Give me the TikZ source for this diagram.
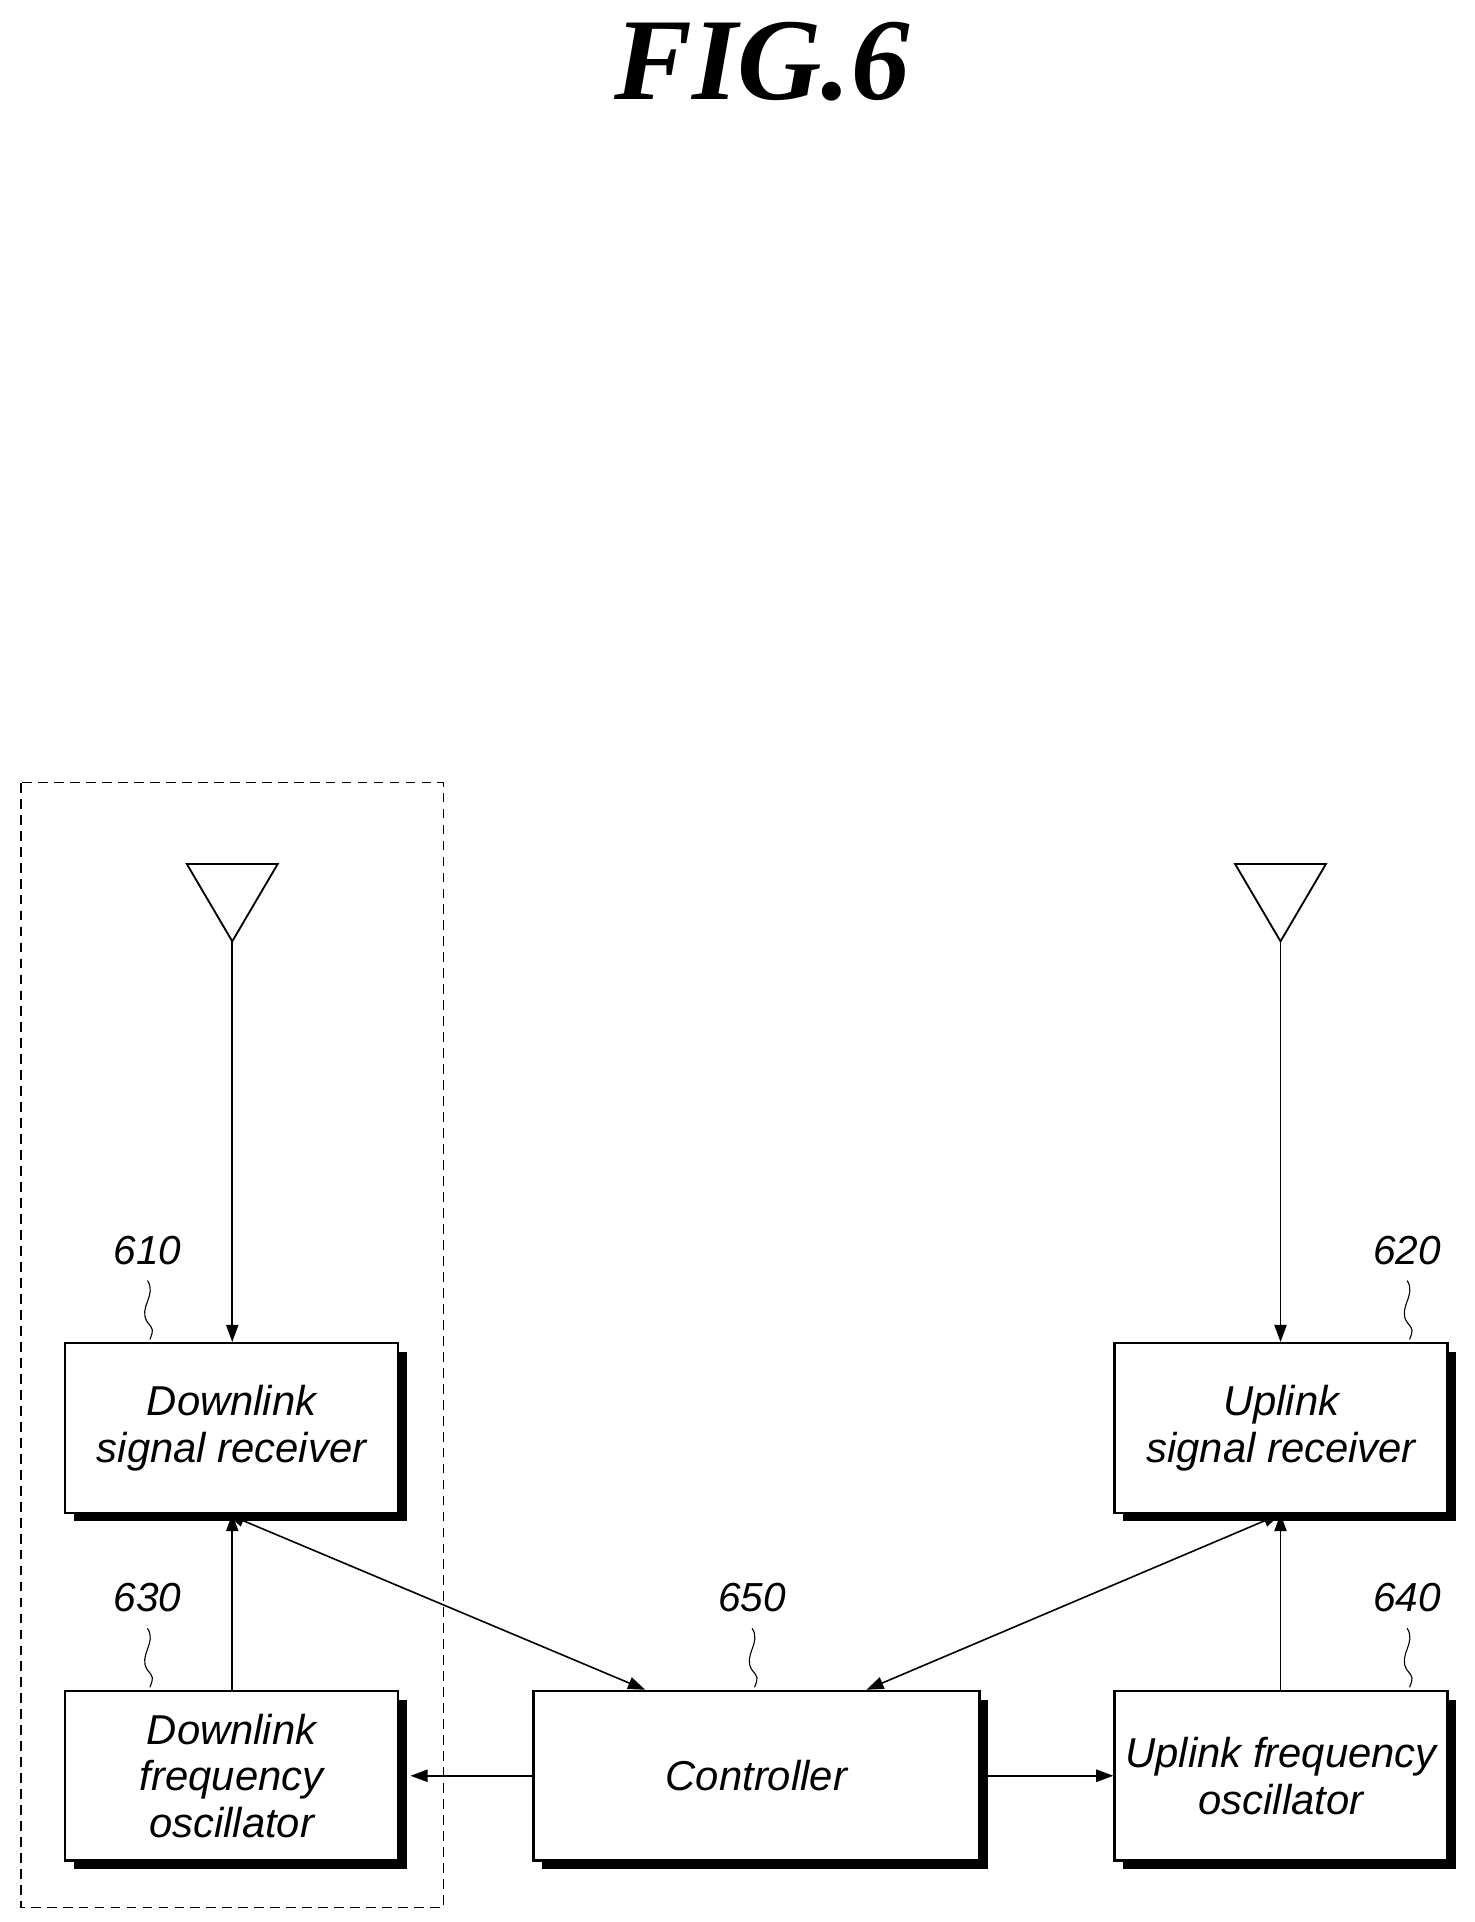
\documentclass[tikz,border=0pt]{standalone}
\usepackage{fontspec}
\setmainfont{Liberation Sans}
\newfontfamily\titlefont{Liberation Serif}
\usetikzlibrary{arrows.meta}
\begin{document}
\begin{tikzpicture}[x=1pt,y=-1pt,
  blk/.style={draw,line width=2pt,fill=white,minimum width=271pt,minimum height=138pt,anchor=north west,align=center,font=\fontsize{34}{38}\selectfont\itshape,inner sep=0pt},
  lbl/.style={font=\fontsize{33}{38}\selectfont\itshape},
  arr/.style={line width=1.3pt,-{Triangle[length=14pt,width=10pt]}},
  darr/.style={line width=1.3pt,{Triangle[length=14pt,width=10pt]}-{Triangle[length=14pt,width=10pt]}},
  sq/.style={line width=0.9pt}]
\useasboundingbox (0,0) rectangle (1200,1564);
\node[font=\titlefont\fontsize{95}{100}\selectfont\bfseries\itshape] (title) at (620,50) {FIG.6};
\draw[line width=1pt,dash pattern=on 8pt off 5pt] (17,637) rectangle (361,1552);
% shadows
\foreach \x/\y/\w in {52/1092/271,906/1092/271,52/1375/271,433/1375/363,906/1375/271}
  \fill (\x+8,\y+8) rectangle ++(\w,138);
\node[blk] (b610) at (52,1092) {Downlink\\signal receiver};
\node[blk] (b620) at (906,1092) {Uplink\\signal receiver};
\node[blk] (b630) at (52,1375) {Downlink\\frequency\\oscillator};
\node[blk,minimum width=363pt] (b650) at (433,1375) {Controller};
\node[blk] (b640) at (906,1375) {Uplink frequency\\oscillator};
% antennas
\draw[line width=1.5pt] (152,703) -- (226,703) -- (189,766) coordinate (a1) -- cycle;
\draw[line width=1.5pt] (1005,703) -- (1079,703) -- (1042,766) coordinate (a2) -- cycle;
\draw[arr] (a1) -- (b610.north -| a1);
\draw[arr] (a2) -- (b620.north -| a2);
\draw[arr] (b630.north -| a1) -- (b610.south -| a1);
\draw[arr] (b640.north -| a2) -- (b620.south -| a2);
\coordinate (p1) at (185,1232); \coordinate (q1) at (525,1375);
\coordinate (p2) at (1042,1232); \coordinate (q2) at (705,1375);
\draw[darr] (p1) -- (q1);
\draw[darr] (p2) -- (q2);
\draw[arr] (b650.west) -- ([xshift=9pt]b630.east);
\draw[arr] (b650.east) -- (b640.west);
% labels
\node[lbl] (l610) at (120,1018) {610};
\node[lbl] (l620) at (1145,1018) {620};
\node[lbl] (l630) at (120,1300) {630};
\node[lbl] (l650) at (612,1300) {650};
\node[lbl] (l640) at (1145,1300) {640};
\foreach \x/\y in {120/1042,1145/1042,120/1325,612/1325,1145/1325}
  \draw[sq] (\x,\y) .. controls (\x+8,\y+12) and (\x-8,\y+22) .. (\x,\y+34) .. controls (\x+5,\y+40) .. (\x+2,\y+48);
\end{tikzpicture}
\end{document}
